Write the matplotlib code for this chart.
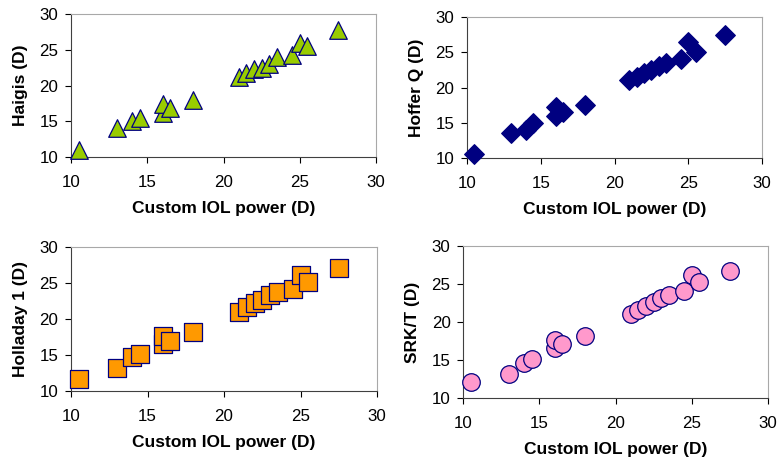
import matplotlib.pyplot as plt
import numpy as np

plt.rcParams['font.family'] = ['Liberation Sans', 'DejaVu Sans']

# custom IOL power (x) shared by all four panels
custom_iol = [10.5, 13, 14, 14.5, 16, 16, 16.5, 18, 21, 21.5, 22, 22.5, 23, 23.5, 24.5, 25, 25.5, 27.5]

haigis = [11, 14, 15, 15.5, 16.2, 17.4, 16.8, 18, 21.2, 21.8, 22.3, 22.5, 23, 24, 24.3, 26, 25.5, 27.7]
hoffer_q = [10.5, 13.5, 14, 15, 16, 17.2, 16.5, 17.5, 21, 21.5, 22, 22.5, 23, 23.5, 24, 26.5, 25, 27.5]
holladay = [11.6, 13.2, 14.7, 15.2, 16.5, 17.6, 17, 18.2, 21, 21.6, 22.2, 22.7, 23.3, 23.8, 24.2, 26.1, 25.2, 27.1]
srkt = [12.1, 13.2, 14.6, 15.1, 16.6, 17.6, 17.1, 18.2, 21.1, 21.6, 22.1, 22.6, 23.2, 23.6, 24.1, 26.2, 25.2, 26.7]

ticks = [10, 15, 20, 25, 30]

W, H = 778, 462
fig = plt.figure(figsize=(W / 100, H / 100), dpi=100)


def px_axes(x0, y0, x1, y1):
    return fig.add_axes([x0 / W, 1 - y1 / H, (x1 - x0) / W, (y1 - y0) / H])


panels = [
    ((71, 14, 376, 157), haigis, 'Haigis (D)', '^', '#99CC00', 160),
    ((467, 17, 762, 158), hoffer_q, 'Hoffer Q (D)', 'D', '#000080', 100),
    ((71, 247, 377, 391), holladay, 'Holladay 1 (D)', 's', '#FF9900', 160),
    ((463, 246, 768, 398), srkt, 'SRK/T (D)', 'o', '#FF99CC', 160),
]

for box, vals, ylab, marker, color, size in panels:
    ax = px_axes(*box)
    ax.scatter(custom_iol, vals, marker=marker, s=size, facecolor=color,
               edgecolor='#000080', linewidth=0.9, zorder=3, clip_on=False)
    ax.set_xlim(10, 30)
    ax.set_ylim(10, 30)
    ax.set_xticks(ticks)
    ax.set_yticks(ticks)
    ax.tick_params(labelsize=12.2, direction='out', length=4, width=0.8)
    ax.tick_params(axis='x', pad=9)
    ax.tick_params(axis='y', pad=5)
    ax.spines['top'].set_color('#a8a8a8')
    ax.spines['right'].set_color('#a8a8a8')
    ax.spines['left'].set_color('#404040')
    ax.spines['bottom'].set_color('#404040')
    ax.set_xlabel('Custom IOL power (D)', fontsize=12.5, fontweight='bold', labelpad=8)
    ax.set_ylabel(ylab, fontsize=12.5, fontweight='bold', labelpad=8)

fig.savefig('out.png', dpi=100)
